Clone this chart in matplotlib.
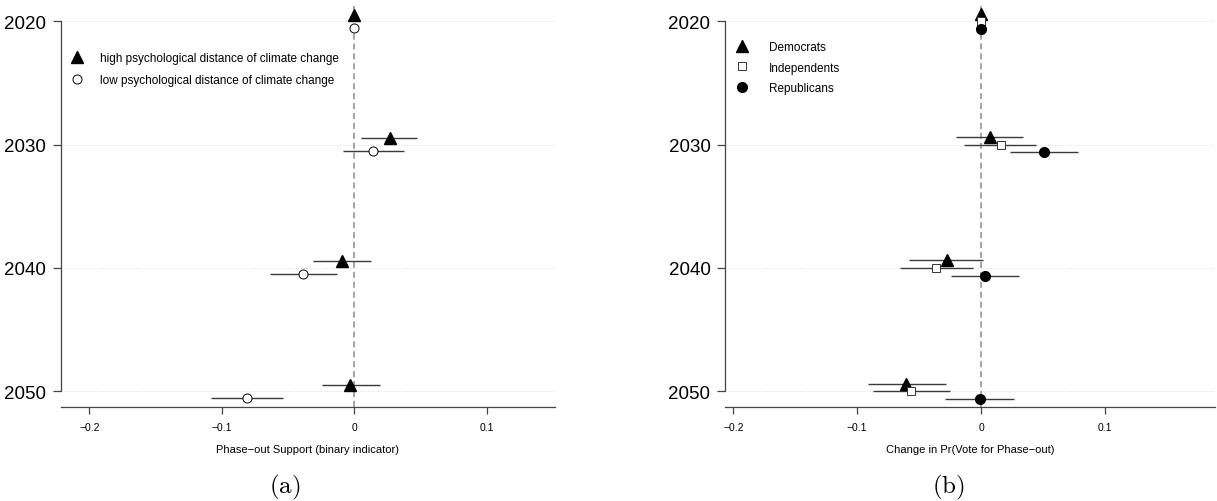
import matplotlib
matplotlib.use("Agg")
import matplotlib.pyplot as plt
from matplotlib.lines import Line2D

plt.rcParams["mathtext.fontset"] = "cm"

# ── Estimates and 95% intervals by phase-out year ────────────────────────────
years = [2020, 2030, 2040, 2050]
year_labels = ["2020", "2030", "2040", "2050"]

# panel (a): psychological distance of climate change
high_est = [0.000, 0.027, -0.009, -0.003]
high_lo  = [0.000, 0.0055, -0.031, -0.0246]
high_hi  = [0.000, 0.0477, 0.0125, 0.0194]
low_est  = [0.000, 0.0145, -0.0387, -0.081]
low_lo   = [0.000, -0.0087, -0.0634, -0.108]
low_hi   = [0.000, 0.0377, -0.013, -0.054]

# panel (b): party identification
dem_est = [0.000, 0.0069, -0.0275, -0.0603]
dem_lo  = [0.000, -0.0203, -0.0578, -0.0915]
dem_hi  = [0.000, 0.0338, 0.0016, -0.0284]
ind_est = [0.000, 0.0157, -0.0362, -0.0568]
ind_lo  = [0.000, -0.0134, -0.0656, -0.0872]
ind_hi  = [0.000, 0.044, -0.0066, -0.0253]
rep_est = [0.000, 0.0506, 0.0031, -0.0012]
rep_lo  = [0.000, 0.0231, -0.024, -0.0293]
rep_hi  = [0.000, 0.078, 0.031, 0.0269]

xticks = [-0.2, -0.1, 0, 0.1]
xtick_labels = ["\u22120.2", "\u22120.1", "0", "0.1"]

SANS = ["Liberation Sans", "DejaVu Sans"]
NARROW = ["Liberation Sans Narrow", "Liberation Sans", "DejaVu Sans"]
BAR = "#3a3a3a"

W, H = 1217, 502
fig = plt.figure(figsize=(W / 100, H / 100), dpi=100)


def px_axes(x0, x1, y0, y1):
    """Axes from pixel edges (y measured from the top)."""
    return fig.add_axes([x0 / W, (H - y1) / H, (x1 - x0) / W, (y1 - y0) / H])


def style_axes(ax, xlim, xlabel):
    ax.set_xlim(*xlim)
    ax.set_ylim(2051.25, 2018.76)
    ax.set_yticks(years)
    ax.set_yticklabels(year_labels, fontsize=13.5, family=SANS)
    ax.set_xticks(xticks)
    ax.set_xticklabels(xtick_labels, fontsize=7.5, family=NARROW)
    ax.tick_params(axis="y", length=5.5, width=0.9, pad=5, color="#444444")
    ax.tick_params(axis="x", length=5, width=0.9, pad=6, color="#444444")
    for s in ("top", "right"):
        ax.spines[s].set_visible(False)
    ax.spines["left"].set_bounds(2020, 2050)
    for s in ("left", "bottom"):
        ax.spines[s].set_color("#444444")
        ax.spines[s].set_linewidth(0.9)
    ax.grid(axis="y", ls=":", color="#dcdcdc", lw=0.7)
    ax.set_axisbelow(True)
    ax.axvline(0, color="#8c8c8c", ls=(0, (4, 2.5)), lw=1.1, zorder=1)
    ax.set_xlabel(xlabel, fontsize=8, family=NARROW, labelpad=9)


def series(ax, est, lo, hi, shift, **mk):
    y = [yr + shift for yr in years]
    ax.hlines(y, lo, hi, color=BAR, lw=1.0, zorder=2)
    ax.plot(est, y, ls="none", zorder=3, clip_on=False, **mk)


tri = dict(marker="^", ms=8.5, mfc="black", mec="black")
ring = dict(marker="o", ms=6.5, mfc="white", mec="black", mew=0.7)
sq = dict(marker="s", ms=6.2, mfc="white", mec="#333333", mew=0.7)
dot = dict(marker="o", ms=7.0, mfc="black", mec="black")

# ── (a) ─────────────────────────────────────────────────────────────────────
ax1 = px_axes(60.7, 555, 7, 407.7)
style_axes(ax1, (-0.2216, 0.1516), "Phase\u2212out Support (binary indicator)")
series(ax1, high_est, high_lo, high_hi, -0.53, **tri)
series(ax1, low_est, low_lo, low_hi, 0.53, **ring)
h1 = [Line2D([], [], ls="none", **tri), Line2D([], [], ls="none", **ring)]
ax1.legend(h1, ["high psychological distance of climate change",
                "low psychological distance of climate change"],
           loc="upper left", bbox_to_anchor=(0.0, 0.912), frameon=False,
           handlelength=1.0, handletextpad=1.4, labelspacing=0.85,
           prop={"family": NARROW, "size": 8.5})

# ── (b) ─────────────────────────────────────────────────────────────────────
ax2 = px_axes(725, 1215, 7, 407.7)
style_axes(ax2, (-0.2067, 0.1888), "Change in Pr(Vote for Phase\u2212out)")
series(ax2, dem_est, dem_lo, dem_hi, -0.62, **tri)
series(ax2, ind_est, ind_lo, ind_hi, 0.0, **sq)
series(ax2, rep_est, rep_lo, rep_hi, 0.62, **dot)
h2 = [Line2D([], [], ls="none", **tri), Line2D([], [], ls="none", **sq),
      Line2D([], [], ls="none", **dot)]
ax2.legend(h2, ["Democrats", "Independents", "Republicans"],
           loc="upper left", bbox_to_anchor=(0.0, 0.94), frameon=False,
           handlelength=1.0, handletextpad=1.8, labelspacing=0.75,
           prop={"family": NARROW, "size": 8.5})

fig.text(284.5 / W, 1 - 487 / H, r"$\mathrm{(a)}$", fontsize=18,
         ha="center", va="center")
fig.text(948 / W, 1 - 487 / H, r"$\mathrm{(b)}$", fontsize=18,
         ha="center", va="center")

fig.savefig("out.png", dpi=100)
